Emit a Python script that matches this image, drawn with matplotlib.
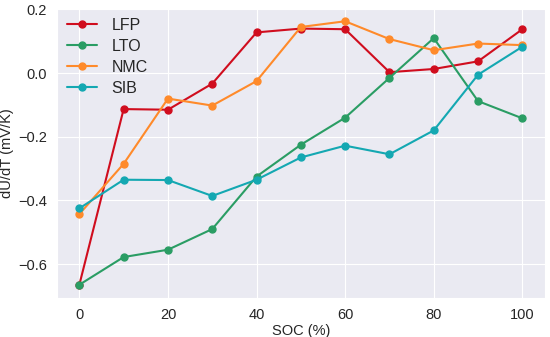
import numpy as np
import matplotlib
matplotlib.use('Agg')
import matplotlib.pyplot as plt
import seaborn as sns

sns.set_style('darkgrid')
plt.rcParams['font.family'] = ['Liberation Sans', 'DejaVu Sans']

soc = [0, 10, 20, 30, 40, 50, 60, 70, 80, 90, 100]
lfp = [-0.665, -0.113, -0.115, -0.033, 0.128, 0.140, 0.138, 0.003, 0.013, 0.037, 0.138]
lto = [-0.665, -0.578, -0.555, -0.490, -0.325, -0.225, -0.140, -0.015, 0.110, -0.088, -0.142]
nmc = [-0.443, -0.285, -0.080, -0.102, -0.025, 0.145, 0.163, 0.107, 0.072, 0.093, 0.088]
sib = [-0.425, -0.335, -0.336, -0.386, -0.335, -0.265, -0.228, -0.255, -0.180, -0.005, 0.083]

series = [('LFP', lfp, '#d00d1e'),
          ('LTO', lto, '#2a9d64'),
          ('NMC', nmc, '#ff8a2a'),
          ('SIB', sib, '#14a8b2')]

fig, ax = plt.subplots(figsize=(5.5, 3.37), dpi=100)
for name, vals, col in series:
    ax.plot(soc, vals, '-o', color=col, label=name, linewidth=1.5, markersize=5)

ax.set_xlabel('SOC (%)', fontsize=10.5, labelpad=1)
ax.set_ylabel('dU/dT (mV/K)', fontsize=10.5, labelpad=3)
ax.tick_params(labelsize=10.5, pad=4)
ax.legend(loc='upper left', frameon=False, fontsize=11.5, handlelength=1.9,
          labelspacing=0.38, borderaxespad=0.2, handletextpad=0.9)
fig.subplots_adjust(left=0.104, right=0.99, top=0.976, bottom=0.116)
fig.savefig('out.png', dpi=100)
